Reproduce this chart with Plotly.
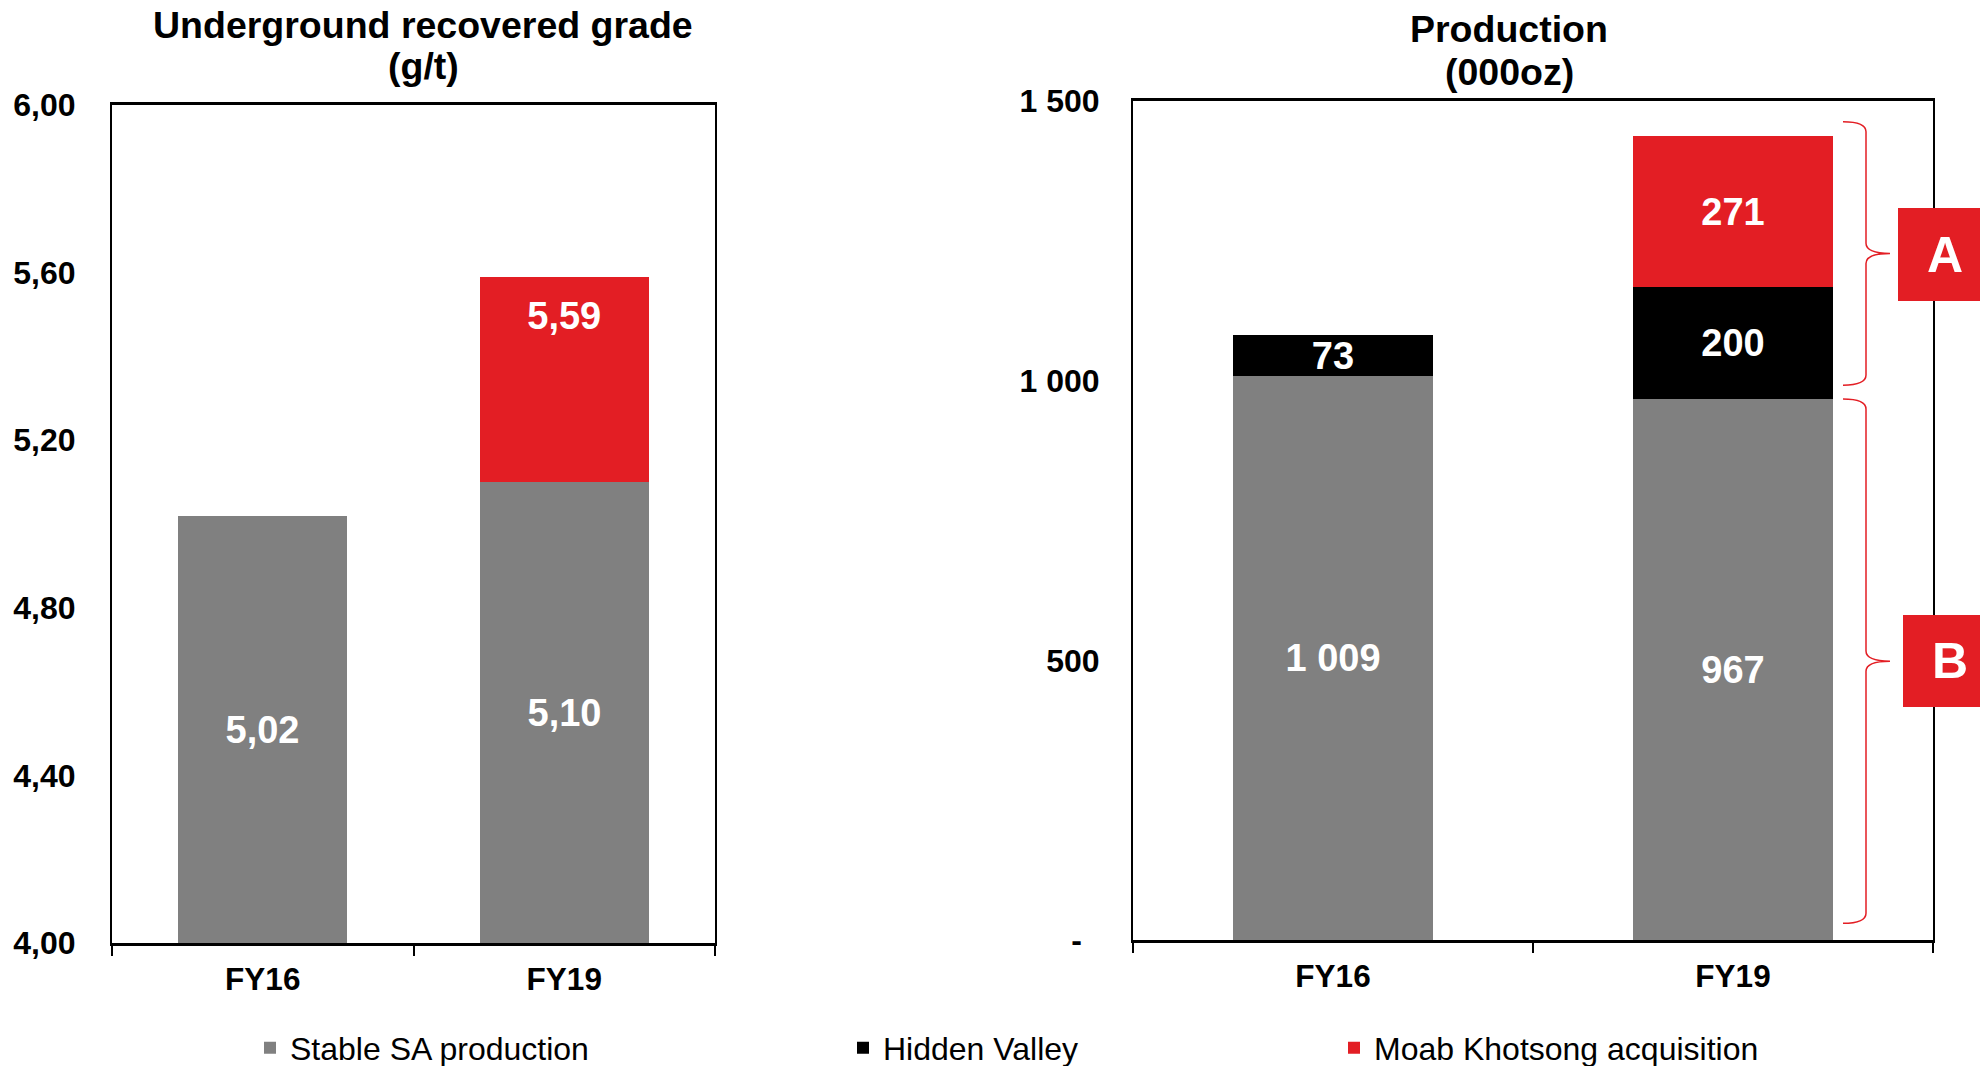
import plotly.graph_objects as go

W, H = 1980, 1066

categories = ["FY16", "FY19"]

# Underground recovered grade (g/t)
grade_stable = [5.02, 5.10]
grade_total = [None, 5.59]

# Production (000oz)
prod_stable = [1009, 967]
prod_hidden = [73, 200]
prod_moab = [None, 271]

series_names = ["Stable SA production", "Hidden Valley", "Moab Khotsong acquisition"]
GREY, BLACK, RED = "#808080", "#000000", "#E31E24"

FONT = "Liberation Sans, Arial, sans-serif"
GRADE_MIN = 4.0


def px(x):
    return x / W


def py(y):
    return 1 - y / H


label_font = dict(family=FONT, size=38, color="white", weight="bold")

fig = go.Figure()

# left chart: grade, drawn from the axis floor so labels sit in the visible part
fig.add_trace(go.Bar(
    x=categories, y=[v - GRADE_MIN for v in grade_stable], base=[GRADE_MIN] * 2,
    customdata=grade_stable, texttemplate="%{customdata:.2f}",
    textposition="inside", insidetextanchor="middle", constraintext="none", textangle=0,
    textfont=label_font, marker=dict(color=GREY, line=dict(width=0)),
    width=0.56, showlegend=False, xaxis="x", yaxis="y"))
fig.add_trace(go.Bar(
    x=categories,
    y=[None if t is None else t - s for s, t in zip(grade_stable, grade_total)],
    base=grade_stable, marker=dict(color=RED, line=dict(width=0)),
    width=0.56, showlegend=False, xaxis="x", yaxis="y"))
# total grade label, just under the top of the stack
fig.add_trace(go.Scatter(
    x=categories, y=grade_total, mode="markers+text",
    marker=dict(size=36, opacity=0), texttemplate="%{y:.2f}",
    textposition="bottom center", textfont=label_font,
    showlegend=False, hoverinfo="skip", xaxis="x", yaxis="y"))

# right chart: production, stacked
for vals, color, name, leg in [(prod_stable, GREY, series_names[0], "legend"),
                               (prod_hidden, BLACK, series_names[1], "legend2"),
                               (prod_moab, RED, series_names[2], "legend3")]:
    fig.add_trace(go.Bar(
        x=categories, y=vals, name=name, legend=leg,
        texttemplate="%{y:,}", textposition="inside", insidetextanchor="middle",
        constraintext="none", textangle=0, textfont=label_font,
        marker=dict(color=color, line=dict(width=0)),
        width=0.5, xaxis="x2", yaxis="y2"))

tick_font = dict(family=FONT, size=32, color="black", weight="bold")
xax = dict(type="category", showline=True, linecolor="black", linewidth=3, mirror=True,
           ticks="outside", tickson="boundaries", ticklen=10, tickwidth=2, tickcolor="black",
           tickfont=dict(tick_font, size=31.5), ticklabelstandoff=6,
           showgrid=False, zeroline=False)
yax = dict(showline=True, linecolor="black", linewidth=2, mirror=True, ticks="",
           tickfont=tick_font, showgrid=False, zeroline=False)

fig.update_layout(
    width=W, height=H, barmode="stack", bargap=0,
    separators=", ",
    paper_bgcolor="white", plot_bgcolor="white",
    margin=dict(l=0, r=0, t=0, b=0, autoexpand=False),
    font=dict(family=FONT, color="black"),
    xaxis=dict(xax, domain=[px(112), px(715)], anchor="y"),
    yaxis=dict(yax, domain=[py(943), py(105)], anchor="x", range=[4, 6],
               tickvals=[4, 4.4, 4.8, 5.2, 5.6, 6], tickformat=".2f",
               ticklabelstandoff=28),
    xaxis2=dict(xax, domain=[px(1133), px(1933)], anchor="y2"),
    yaxis2=dict(yax, domain=[py(940), py(101)], anchor="x2", range=[0, 1500],
                tickvals=[0, 500, 1000, 1500],
                ticktext=["-\u00a0\u00a0", "500", "1 000", "1 500"],
                ticklabelstandoff=25),
)

leg_common = dict(orientation="h", yanchor="middle", y=py(1048), xanchor="left",
                  bgcolor="rgba(0,0,0,0)", itemwidth=30,
                  font=dict(family=FONT, size=32, color="black"))
fig.update_layout(legend=dict(leg_common, x=px(250)),
                  legend2=dict(leg_common, x=px(843)),
                  legend3=dict(leg_common, x=px(1334)))

# titles
title_font = dict(family=FONT, size=37.5, color="black", weight="bold")
for text, x, y in [("Underground recovered grade", 423, 25), ("(g/t)", 423, 66),
                   ("Production", 1509, 29), ("(000oz)", 1509, 72)]:
    fig.add_annotation(text=text, x=px(x), y=py(y), xref="paper", yref="paper",
                       xanchor="center", yanchor="middle", showarrow=False, font=title_font)

# curly braces grouping the FY19 production bar
fy19_stable = prod_stable[1]
fy19_total = prod_stable[1] + prod_hidden[1] + prod_moab[1]
xa, xs, xt = px(1843), px(1866), px(1890)
r = 18


def brace(yt, yb):
    ym = (yt + yb) / 2
    return (f"M {xa},{yt} Q {xs},{yt} {xs},{yt - r} L {xs},{ym + r} "
            f"Q {xs},{ym} {xt},{ym} Q {xs},{ym} {xs},{ym - r} "
            f"L {xs},{yb + r} Q {xs},{yb} {xa},{yb}")


for yt, yb in [(fy19_total + 25, fy19_stable + 25), (fy19_stable, 30)]:
    fig.add_shape(type="path", path=brace(yt, yb), xref="paper", yref="y2",
                  line=dict(color=RED, width=1.5))

for letter, x0, y0, y1 in [("A", 1898, 208, 301), ("B", 1903, 615, 707)]:
    fig.add_shape(type="rect", xref="paper", yref="paper",
                  x0=px(x0), x1=px(2000), y0=py(y1), y1=py(y0),
                  fillcolor=RED, line=dict(width=0), layer="above")
    fig.add_annotation(text=letter, x=px(x0 + 47), y=py((y0 + y1) / 2),
                       xref="paper", yref="paper", xanchor="center", yanchor="middle",
                       showarrow=False,
                       font=dict(family=FONT, size=50, color="white", weight="bold"))

# the page body has a default 8px margin; drop it so the figure fills the window
fig.write_html("out.html", config={"displayModeBar": False},
               post_script="document.body.style.margin = '0';")
